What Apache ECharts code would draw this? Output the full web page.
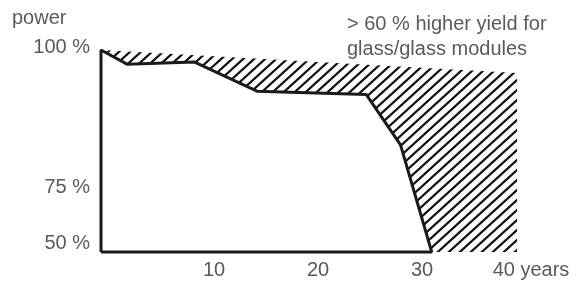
<!DOCTYPE html>
<html>
<head>
<meta charset="utf-8">
<script src="https://cdn.jsdelivr.net/npm/echarts@6/dist/echarts.min.js"></script>
<style>
  html, body { margin: 0; padding: 0; background: #fff; }
  #chart { width: 579px; height: 282px; }
</style>
</head>
<body>
<div id="chart"></div>
<script>
// standard modules outline (years, power %)
var stdYears = [0, 0, 2.5, 9, 15, 25.5, 28.8, 31.8, 0];
var stdPower = [50, 100, 96.5, 97, 89.8, 89, 76.5, 50, 50];
// upper edge of the glass/glass hatch
var glassYears = [0, 40];
var glassPower = [100, 94.3];

var xTicks = [10, 20, 30, 40];
var xTickLabels = ['10', '20', '30', '40 years'];
var yTicks = [50, 66, 100];
var yTickLabels = ['50 %', '75 %', '100 %'];

var font = 'Liberation Sans, Arial, sans-serif';
var grey = '#5a5a5a';

function hatchTile() {
  var w = 11, h = 10;
  var c = document.createElement('canvas');
  c.width = w;
  c.height = h;
  var ctx = c.getContext('2d');
  ctx.strokeStyle = '#111';
  ctx.lineWidth = 2.2;
  for (var k = -1; k <= 1; k++) {
    ctx.beginPath();
    ctx.moveTo(k * w - w, 2 * h);
    ctx.lineTo(k * w + 2 * w, -h);
    ctx.stroke();
  }
  return c;
}

function pairs(xs, ys) {
  return xs.map(function (x, i) { return [x, ys[i]]; });
}

var chart = echarts.init(document.getElementById('chart'));

var option = {
  animation: false,
  grid: { left: 101, right: 62, top: 50, bottom: 30 },
  xAxis: {
    type: 'value',
    min: 0,
    max: 40,
    axisLine: { show: false },
    axisTick: { show: false },
    splitLine: { show: false },
    axisLabel: {
      customValues: xTicks,
      margin: 8,
      formatter: function (v) {
        var i = xTicks.indexOf(v);
        var t = xTickLabels[i];
        return i === xTicks.length - 1 ? '{b|' + t + '}' : '{a|' + t + '}';
      },
      rich: {
        a: { fontFamily: font, fontSize: 20, color: grey, padding: [0, 0, 0, 18] },
        b: { fontFamily: font, fontSize: 20, color: grey, padding: [0, 0, 0, 28] }
      }
    }
  },
  yAxis: {
    type: 'value',
    min: 50,
    max: 100,
    axisLine: { show: false },
    axisTick: { show: false },
    splitLine: { show: false },
    axisLabel: {
      customValues: yTicks,
      margin: 11,
      formatter: function (v) {
        var i = yTicks.indexOf(v);
        var t = yTickLabels[i];
        if (i === 0) return '{lo|' + t + '}';
        if (i === yTicks.length - 1) return '{hi|' + t + '}';
        return '{m|' + t + '}';
      },
      rich: {
        lo: { fontFamily: font, fontSize: 20, color: grey, padding: [0, 0, 18, 0] },
        m: { fontFamily: font, fontSize: 20, color: grey },
        hi: { fontFamily: font, fontSize: 20, color: grey, padding: [0, 0, 6, 0] }
      }
    }
  },
  graphic: [
    {
      type: 'text', x: 12, y: 18,
      style: { text: 'power', font: '20px ' + font, fill: grey, verticalAlign: 'middle' }
    },
    {
      type: 'text', x: 347, y: 12,
      style: {
        text: '> 60 % higher yield for\nglass/glass modules',
        font: '20px ' + font, fill: grey, lineHeight: 25
      }
    },
    {
      type: 'text', x: 175, y: 170,
      style: { text: 'standard modules', font: '20px ' + font, fill: grey, verticalAlign: 'middle' }
    }
  ],
  series: [
    {
      name: 'glass/glass',
      type: 'line',
      data: pairs(glassYears, glassPower),
      symbol: 'none',
      lineStyle: { width: 0 },
      areaStyle: { color: { image: hatchTile(), repeat: 'repeat' }, opacity: 1 }
    },
    {
      name: 'standard',
      type: 'line',
      data: pairs(stdYears, stdPower),
      symbol: 'none',
      clip: false,
      lineStyle: { color: '#1a1a1a', width: 3 },
      areaStyle: { color: '#fff', opacity: 1 }
    }
  ]
};

chart.setOption(option);
</script>
</body>
</html>
